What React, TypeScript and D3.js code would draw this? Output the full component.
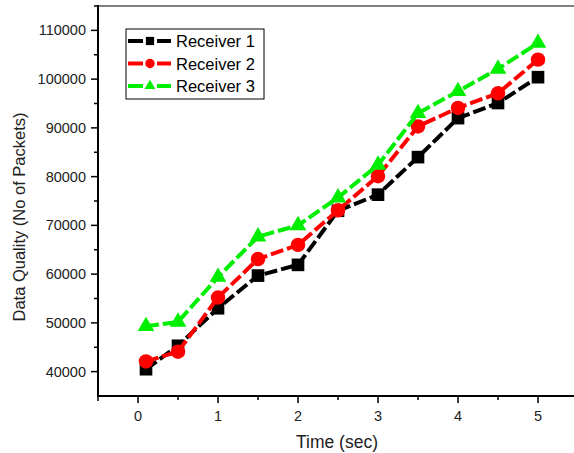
import React from "react";
import * as d3 from "d3";

const times = [0.1, 0.5, 1, 1.5, 2, 2.5, 3, 3.5, 4, 4.5, 5];
const receiver1 = [40500, 45300, 53000, 59700, 61900, 73000, 76300, 84000, 92000, 95100, 100400];
const receiver2 = [42100, 44100, 55200, 63100, 66000, 73100, 80100, 90300, 94100, 97100, 104000];
const receiver3 = [49300, 50200, 59400, 67700, 70000, 75700, 82400, 93000, 97500, 102100, 107400];
const seriesNames = ["Receiver 1", "Receiver 2", "Receiver 3"];
const seriesColors = ["#000000", "#ff0000", "#00ee00"];
const xTicks = [0, 1, 2, 3, 4, 5];
const yTicks = [40000, 50000, 60000, 70000, 80000, 90000, 100000, 110000];

const W = 574;
const H = 453;
const left = 98;
const top = 6;
const bottom = 396;

const x = d3.scaleLinear().domain([-0.5, 5.5]).range([left, 578]);
const y = d3.scaleLinear().domain([35000, 115000]).range([bottom, top]);

const symbols = [
  d3.symbol().type(d3.symbolSquare).size(160)(),
  d3.symbol().type(d3.symbolCircle).size(165)(),
  d3.symbol().type(d3.symbolTriangle).size(120)(),
];

const allSeries = [receiver1, receiver2, receiver3];
const font = "'Liberation Sans', Arial, sans-serif";

export default function App() {
  const line = d3
    .line<number>()
    .x((_, i) => x(times[i]))
    .y((d) => y(d));

  const xMinor = d3.range(-0.5, 5.51, 0.5).filter((t) => !xTicks.includes(t) && t > -0.5);
  const yMinor = d3.range(35000, 115001, 5000).filter((v) => !yTicks.includes(v) && v > 35000);

  return (
    <svg width={W} height={H} style={{ position: "absolute", left: 0, top: 0 }} fontFamily={font}>
      <rect width={W} height={H} fill="white" />
      {/* frame top */}
      <line x1={left} x2={W} y1={top} y2={top} stroke="#808080" strokeWidth={2} />

      {allSeries.map((s, k) => (
        <g key={k}>
          <path d={line(s) || ""} fill="none" stroke={seriesColors[k]} strokeWidth={4} strokeDasharray="13,4" />
          {s.map((v, i) => (
            <path key={i} d={symbols[k] || ""} transform={`translate(${x(times[i])},${y(v)})`} fill={seriesColors[k]} />
          ))}
        </g>
      ))}

      {/* axes */}
      <line x1={left} x2={W} y1={bottom} y2={bottom} stroke="black" strokeWidth={2} />
      <line x1={left} x2={left} y1={top - 1} y2={bottom + 1} stroke="black" strokeWidth={2} />
      <line x1={left} x2={left} y1={bottom} y2={bottom + 5} stroke="black" strokeWidth={1.5} />
      {xTicks.map((t) => (
        <g key={t}>
          <line x1={x(t)} x2={x(t)} y1={bottom} y2={bottom + 7} stroke="black" strokeWidth={1.5} />
          <text x={x(t)} y={421} fontSize={14.5} textAnchor="middle" fill="#222">{t}</text>
        </g>
      ))}
      {xMinor.map((t) => (
        <line key={t} x1={x(t)} x2={x(t)} y1={bottom} y2={bottom + 4} stroke="black" strokeWidth={1.5} />
      ))}
      {yTicks.map((v) => (
        <g key={v}>
          <line x1={left - 7} x2={left} y1={y(v)} y2={y(v)} stroke="black" strokeWidth={1.5} />
          <text x={86} y={y(v) + 5} fontSize={14.5} textAnchor="end" fill="#222">{v}</text>
        </g>
      ))}
      {yMinor.map((v) => (
        <line key={v} x1={left - 4} x2={left} y1={y(v)} y2={y(v)} stroke="black" strokeWidth={1.5} />
      ))}

      <text x={337} y={448} fontSize={17.5} textAnchor="middle" fill="#222">Time (sec)</text>
      <text transform="translate(25,217) rotate(-90)" fontSize={16.5} textAnchor="middle" fill="#222">
        Data Quality (No of Packets)
      </text>

      {/* legend */}
      <rect x={126} y={29} width={138} height={70} fill="white" stroke="black" strokeWidth={1} />
      {seriesNames.map((name, k) => {
        const ly = 41 + k * 22.5;
        return (
          <g key={name}>
            <line x1={128} x2={143} y1={ly} y2={ly} stroke={seriesColors[k]} strokeWidth={4} />
            <line x1={157} x2={171} y1={ly} y2={ly} stroke={seriesColors[k]} strokeWidth={4} />
            <path d={symbols[k] || ""} transform={`translate(150,${ly}) scale(0.65)`} fill={seriesColors[k]} />
            <text x={176} y={ly + 6} fontSize={16.5} fill="black">{name}</text>
          </g>
        );
      })}
    </svg>
  );
}
